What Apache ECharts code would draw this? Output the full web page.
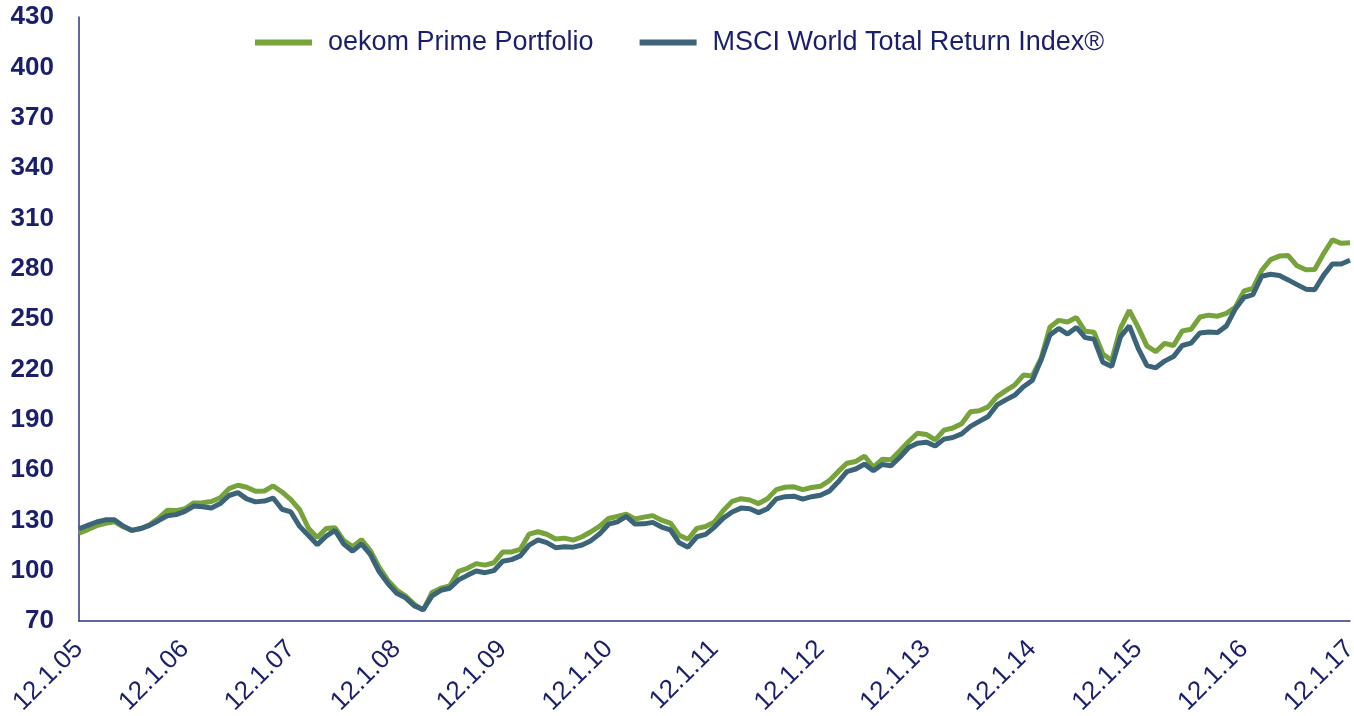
<!DOCTYPE html>
<html>
<head>
<meta charset="utf-8">
<script src="https://cdn.jsdelivr.net/npm/echarts@6/dist/echarts.min.js"></script>
<style>
  html, body { margin: 0; padding: 0; background: #fff; }
  #chart { width: 1354px; height: 716px; }
</style>
</head>
<body>
<div id="chart"></div>
<script>
// x axis: one tick label per year (12 January)
const yearLabels = ['12.1.05', '12.1.06', '12.1.07', '12.1.08', '12.1.09', '12.1.10',
  '12.1.11', '12.1.12', '12.1.13', '12.1.14', '12.1.15', '12.1.16', '12.1.17']

// monthly values, Jan 2005 - Jan 2017
const oekomPrime = [
  122.4, 124.5, 126.8, 128.2, 129.2, 126.2, 124.0, 125.1, 127.3, 131.2, 136.0, 135.8,
  136.9, 140.4, 140.5, 141.2, 143.5, 148.9, 150.9, 149.7, 147.3, 147.5, 150.5, 146.9,
  142.3, 136.3, 125.3, 119.7, 125.1, 125.6, 117.9, 114.3, 118.5, 112.0, 102.1, 94.2,
  88.5, 84.9, 80.0, 76.4, 87.0, 89.5, 90.9, 99.6, 101.4, 104.2, 103.3, 104.7,
  111.1, 111.2, 112.7, 121.8, 123.2, 121.7, 118.9, 119.4, 118.2, 120.2, 123.2, 126.6,
  131.1, 132.4, 133.7, 130.8, 131.9, 132.8, 130.1, 128.4, 121.1, 118.7, 125.2, 126.3,
  129.1, 135.9, 141.3, 142.9, 142.1, 140.0, 142.9, 148.3, 149.7, 150.0, 148.3, 149.6,
  150.3, 153.6, 159.0, 164.0, 165.1, 168.3, 161.6, 166.4, 166.1, 171.5, 177.0, 181.9,
  181.2, 177.9, 183.8, 185.0, 187.6, 194.7, 195.3, 197.6, 203.7, 207.3, 210.6, 216.6,
  216.0, 226.5, 245.1, 249.2, 248.2, 250.9, 242.7, 242.1, 229.2, 225.3, 244.5, 255.1,
  245.0, 233.8, 230.6, 235.5, 234.2, 242.9, 243.9, 251.2, 252.3, 251.7, 253.4, 256.9,
  266.8, 268.2, 279.0, 285.4, 287.5, 287.8, 281.7, 279.3, 279.5, 288.9, 297.2, 295.1,
  295.4
]
const msciWorld = [
  125.0, 127.0, 129.0, 130.3, 130.4, 126.6, 124.0, 125.1, 127.0, 129.8, 132.7, 133.4,
  135.3, 138.5, 138.1, 137.4, 140.0, 144.8, 146.5, 142.8, 141.0, 141.5, 143.3, 136.6,
  135.0, 126.4, 121.0, 115.5, 120.6, 124.0, 115.8, 111.6, 116.0, 109.7, 99.5, 92.3,
  86.5, 83.8, 79.0, 76.8, 85.0, 88.3, 89.5, 94.5, 97.2, 99.8, 98.8, 100.0,
  105.6, 106.6, 108.8, 115.2, 118.4, 116.7, 113.7, 114.2, 114.0, 115.3, 117.9, 122.0,
  127.7, 129.1, 132.4, 127.8, 127.9, 128.8, 126.0, 124.3, 116.6, 114.0, 120.2, 121.6,
  126.0, 131.3, 135.0, 137.3, 136.9, 134.6, 136.9, 142.8, 144.1, 144.4, 142.6, 144.1,
  145.0, 147.4, 152.8, 159.0, 160.6, 163.5, 159.6, 163.3, 162.5, 167.6, 173.4, 175.9,
  176.6, 174.3, 178.4, 179.4, 181.5, 186.0, 189.0, 191.9, 198.8, 201.8, 204.5, 209.6,
  213.3, 225.5, 240.5, 244.4, 241.0, 245.0, 238.9, 238.0, 224.2, 221.7, 239.4, 245.9,
  232.5, 222.2, 220.9, 224.9, 227.6, 234.2, 235.6, 241.7, 242.3, 242.0, 245.9, 255.9,
  262.9, 264.5, 275.5, 276.7, 275.9, 273.3, 270.5, 267.8, 267.4, 276.0, 282.8, 282.8,
  285.0
]

// month categories, the January ones carry the year label
const months = []
for (let i = 0; i < oekomPrime.length; i++) {
  months.push(i % 12 === 0 ? yearLabels[i / 12] : 'm' + i)
}

const navy = '#1b1f6b'
const chart = echarts.init(document.getElementById('chart'))
chart.setOption({
  animation: false,
  backgroundColor: '#fff',
  textStyle: { fontFamily: 'Liberation Sans, Arial, sans-serif' },
  grid: { left: 79, right: 4, top: 17, bottom: 95, outerBoundsMode: 'none' },
  legend: {
    left: 250,
    top: 24,
    itemWidth: 57,
    itemHeight: 6,
    itemGap: 46,
    icon: 'rect',
    textStyle: { color: navy, fontSize: 27, padding: [0, 0, 0, 11] },
    data: ['oekom Prime Portfolio', 'MSCI World Total Return Index®']
  },
  xAxis: {
    type: 'category',
    data: months,
    boundaryGap: false,
    axisLine: { lineStyle: { color: '#2e3585', width: 1.5 } },
    axisTick: { show: false },
    axisLabel: {
      interval: 11,
      rotate: 45,
      margin: 24,
      color: navy,
      fontSize: 26,
      padding: [0, 0, 0, 0]
    }
  },
  yAxis: {
    type: 'value',
    min: 70,
    max: 430,
    interval: 30,
    axisLine: { show: true, lineStyle: { color: '#2e3585', width: 1.5 } },
    axisTick: { show: false },
    splitLine: { show: false },
    axisLabel: { margin: 25, color: navy, fontSize: 26, fontWeight: 'bold' }
  },
  series: [
    {
      name: 'oekom Prime Portfolio',
      type: 'line',
      data: oekomPrime,
      symbol: 'none',
      color: '#76a33a',
      lineStyle: { width: 5, color: '#76a33a' }
    },
    {
      name: 'MSCI World Total Return Index®',
      type: 'line',
      data: msciWorld,
      symbol: 'none',
      color: '#3b6479',
      lineStyle: { width: 5, color: '#3b6479' }
    }
  ]
})
</script>
</body>
</html>
